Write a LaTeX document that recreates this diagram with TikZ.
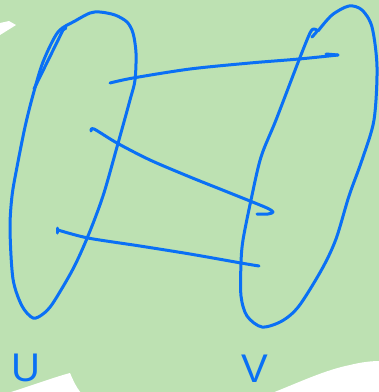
\documentclass[tikz,border=0pt]{standalone}
\usepackage{fontspec}
\setsansfont{Liberation Sans}
\definecolor{bg}{RGB}{189,225,178}
\definecolor{ink}{RGB}{10,112,245}
\begin{document}
\begin{tikzpicture}[x=1pt,y=-1pt,
  stroke/.style={draw=ink,line width=3pt,line cap=round,line join=round},
  lbl/.style={text=ink,font=\sffamily\fontsize{40}{40}\selectfont,inner sep=0pt}]
\useasboundingbox (0,0) rectangle (379,392);
\fill[bg] (0,0) rectangle (379,392);
% white patches
\fill[white] (0,23) -- (9,21) -- (16,25) -- (0,35) -- cycle;
\fill[white] (8,393) .. controls (30,386) and (55,377) .. (70,373) .. controls (73,380) and (76,387) .. (81,393) -- cycle;
\fill[white] (272,393) .. controls (300,382) and (325,370) .. (350,365) .. controls (362,362) and (372,361) .. (380,361) -- (380,393) -- cycle;
% left set
\draw[stroke] plot[smooth cycle] coordinates {(58,32) (75,21) (90,13) (100,12) (115,15) (127,22) (133,33) (136,53) (135,80) (130,100) (117,147) (103,196) (88,236) (73,269) (53,303) (43,314) (33,318) (22,306) (13,279) (10,229) (12,196) (17,167) (25,127) (33,95) (43,62)};
\draw[stroke] (34,89) -- (63,30) -- (66,28);
% right set
\draw[stroke] plot[smooth] coordinates {(312,37) (317,31) (314,29) (310,33) (299,60) (276,120) (261,157) (251,200) (243,240) (241,263) (241,296) (247,316) (262,327) (282,321) (299,306) (322,269) (336,239) (349,196) (362,160) (374,120) (377,67) (372,27) (362,10) (349,6) (332,15) (318,31)};
% mapping lines
\draw[stroke] plot[smooth] coordinates {(110,83) (133,78) (190,69) (250,63) (299,59) (338,55)};
\draw[stroke] (326,54) -- (338,55);
\draw[stroke] plot[smooth] coordinates {(91,131) (94,129) (117,143) (150,160) (190,177) (220,189) (250,201) (267,208) (273,212) (268,214) (257,214)};
\draw[stroke] (57,228) -- (57,233);
\draw[stroke] plot[smooth] coordinates {(58,230) (88,238) (140,246) (190,254) (241,263) (259,266)};
% labels
\node[lbl] (U) at (26,368) {U};
\node[lbl] (V) at (255,369) {V};
\end{tikzpicture}
\end{document}
